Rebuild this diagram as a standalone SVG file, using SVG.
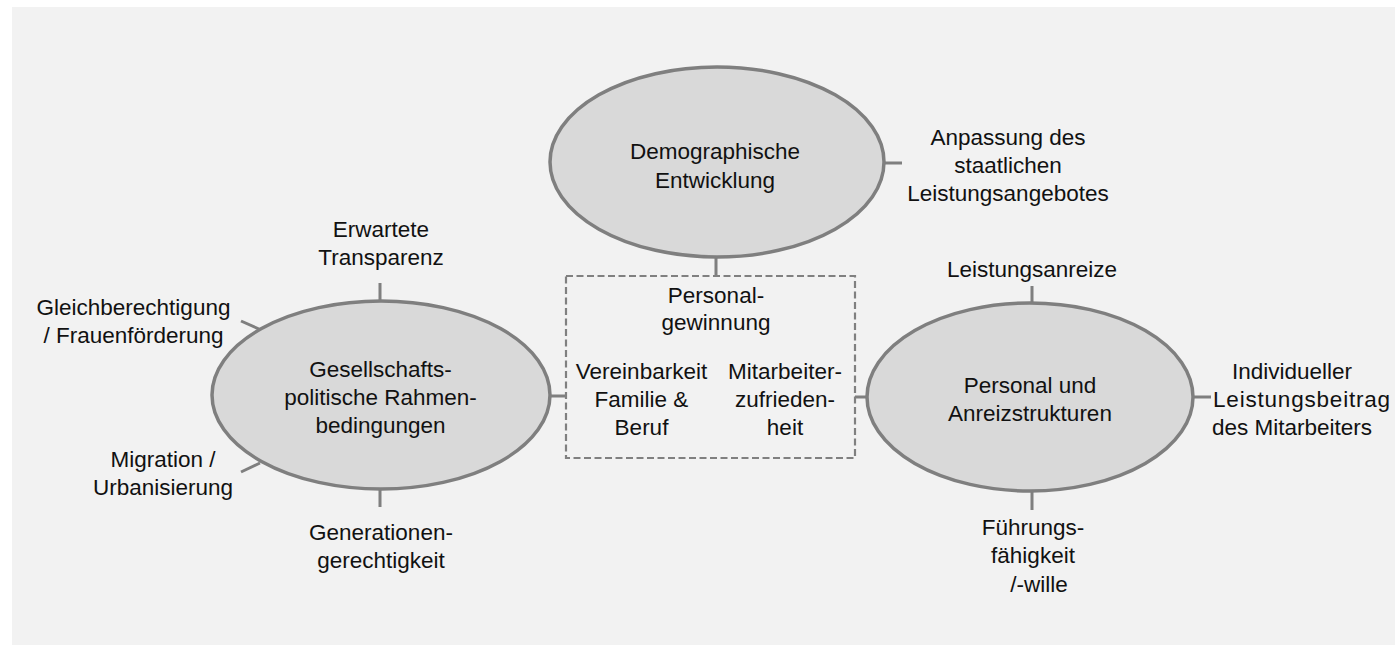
<svg xmlns="http://www.w3.org/2000/svg" width="1395" height="645" viewBox="0 0 1395 645">
<style>
.bg{fill:#f2f2f2}
.ell{fill:#d9d9d9;stroke:#7f7f7f;stroke-width:3.5}
.box{fill:none;stroke:#808080;stroke-width:2.2;stroke-dasharray:7 3.5}
.con line{stroke:#7f7f7f;stroke-width:3}
text{font-family:"Liberation Sans",Arial,sans-serif;font-size:22.5px;fill:#111;text-anchor:middle}
</style>
<rect class="bg" x="12" y="7" width="1383" height="638"/>
<g id="connectors" class="con">
<line x1="716" y1="257" x2="716" y2="276"/>
<line x1="884" y1="163" x2="902" y2="163"/>
<line x1="550" y1="396" x2="566" y2="396"/>
<line x1="855" y1="397" x2="868" y2="397"/>
<line x1="380" y1="283" x2="380" y2="301"/>
<line x1="380" y1="489" x2="380" y2="507"/>
<line x1="241" y1="321" x2="259" y2="329"/>
<line x1="241" y1="472" x2="260" y2="463"/>
<line x1="1032" y1="286" x2="1032" y2="303"/>
<line x1="1032" y1="491" x2="1032" y2="510"/>
<line x1="1192" y1="397" x2="1211" y2="397"/>
</g>
<g id="demographie">
<ellipse class="ell" cx="717" cy="162" rx="167" ry="95"/>
<text x="715" y="159">Demographische</text>
<text x="715" y="188">Entwicklung</text>
</g>
<g id="gesellschaft">
<ellipse class="ell" cx="381" cy="395" rx="169" ry="94"/>
<text x="380.5" y="377">Gesellschafts-</text>
<text x="380.5" y="405">politische Rahmen-</text>
<text x="380.5" y="433">bedingungen</text>
</g>
<g id="personal">
<ellipse class="ell" cx="1030" cy="397" rx="163" ry="94"/>
<text x="1030" y="393">Personal und</text>
<text x="1030" y="421">Anreizstrukturen</text>
</g>
<g id="personalgewinnung">
<rect class="box" x="566" y="276" width="289" height="182"/>
<text x="716" y="302.5">Personal-</text>
<text x="716" y="330">gewinnung</text>
<text x="641.5" y="378.5">Vereinbarkeit</text>
<text x="641.5" y="406.5">Familie &amp;</text>
<text x="641.5" y="434.5">Beruf</text>
<text x="785" y="378.5">Mitarbeiter-</text>
<text x="785" y="406.5">zufrieden-</text>
<text x="785" y="434.5">heit</text>
</g>
<g id="anpassung">
<text x="1008" y="144.5">Anpassung des</text>
<text x="1008" y="172.5">staatlichen</text>
<text x="1008" y="201">Leistungsangebotes</text>
</g>
<g id="transparenz">
<text x="381" y="237">Erwartete</text>
<text x="381" y="265">Transparenz</text>
</g>
<g id="gleichberechtigung">
<text x="133.5" y="315">Gleichberechtigung</text>
<text x="133.5" y="343">/ Frauenförderung</text>
</g>
<g id="migration">
<text x="163" y="467">Migration /</text>
<text x="163" y="494.5">Urbanisierung</text>
</g>
<g id="generationen">
<text x="381" y="540">Generationen-</text>
<text x="381" y="568">gerechtigkeit</text>
</g>
<g id="leistungsanreize">
<text x="1032" y="277">Leistungsanreize</text>
</g>
<g id="leistungsbeitrag">
<text x="1292" y="379">Individueller</text>
<text x="1213" y="407" style="text-anchor:start;letter-spacing:0.8px">Leistungsbeitrag</text>
<text x="1292" y="435">des Mitarbeiters</text>
</g>
<g id="fuehrung">
<text x="1033" y="535">Führungs-</text>
<text x="1033" y="563">fähigkeit</text>
<text x="1039" y="591.5">/-wille</text>
</g>
</svg>
